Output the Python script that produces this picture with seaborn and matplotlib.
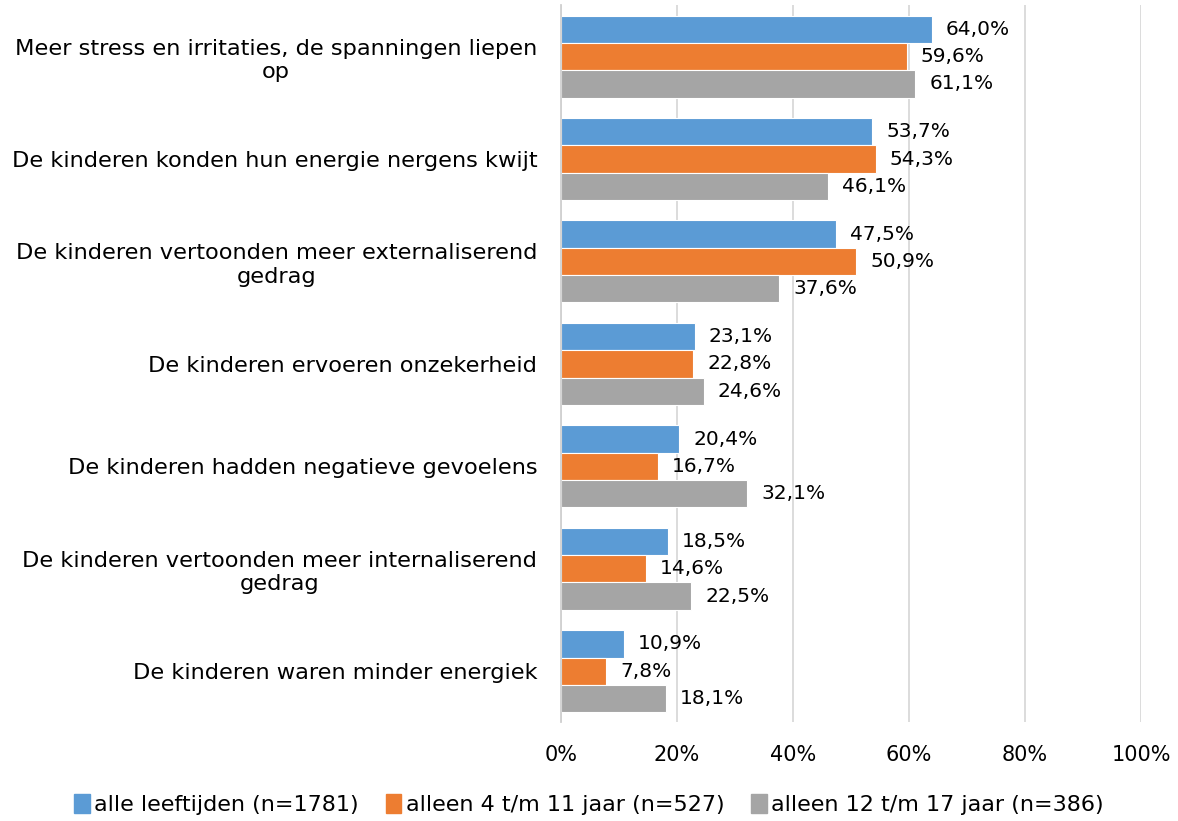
import pandas as pd
import numpy as np
import matplotlib.pyplot as plt
import seaborn as sns

# categorieën en waarden (percentages)
categories = [
    'Meer stress en irritaties, de spanningen liepen\nop',
    'De kinderen konden hun energie nergens kwijt',
    'De kinderen vertoonden meer externaliserend\ngedrag',
    'De kinderen ervoeren onzekerheid',
    'De kinderen hadden negatieve gevoelens',
    'De kinderen vertoonden meer internaliserend\ngedrag',
    'De kinderen waren minder energiek',
]
series = ['alle leeftijden (n=1781)', 'alleen 4 t/m 11 jaar (n=527)', 'alleen 12 t/m 17 jaar (n=386)']
alle = [64.0, 53.7, 47.5, 23.1, 20.4, 18.5, 10.9]
jong = [59.6, 54.3, 50.9, 22.8, 16.7, 14.6, 7.8]
oud = [61.1, 46.1, 37.6, 24.6, 32.1, 22.5, 18.1]
colors = ['#5B9BD5', '#ED7D31', '#A5A5A5']

df = pd.DataFrame({
    'categorie': categories * 3,
    'groep': [series[0]] * 7 + [series[1]] * 7 + [series[2]] * 7,
    'waarde': alle + jong + oud,
})

sns.set_style('white')
plt.rcParams['font.family'] = ['DejaVu Sans']
plt.rcParams['text.color'] = 'black'
plt.rcParams['xtick.color'] = 'black'
plt.rcParams['ytick.color'] = 'black'

fig = plt.figure(figsize=(11.78, 8.21), dpi=100)
ax = fig.add_axes([0.4762, 0.12, 0.4924, 0.8735])

sns.barplot(data=df, y='categorie', x='waarde', hue='groep', palette=colors,
            order=categories, hue_order=series, width=0.8, orient='h',
            saturation=1, edgecolor='white', linewidth=0.8, ax=ax)

# labels naast de balken
for cont in ax.containers:
    labels = [f'{v:.1f}%'.replace('.', ',') for v in cont.datavalues]
    ax.bar_label(cont, labels=labels, padding=10, fontsize=14.5)

ax.set_xlim(0, 100)
ax.set_xticks([0, 20, 40, 60, 80, 100])
ax.set_xticklabels(['0%', '20%', '40%', '60%', '80%', '100%'], fontsize=15)
ax.tick_params(axis='x', length=0, pad=16)
ax.tick_params(axis='y', length=0, pad=17)
for lab in ax.get_yticklabels():
    lab.set_fontsize(16.2)
    lab.set_multialignment('center')
ax.set_xlabel('')
ax.set_ylabel('')
ax.grid(axis='x', color='#D9D9D9', linewidth=1.3)
ax.set_axisbelow(True)
for s in ['top', 'right', 'bottom']:
    ax.spines[s].set_visible(False)
ax.spines['left'].set_color('#D0D0D0')
ax.spines['left'].set_linewidth(1.3)

ax.legend_.remove()
handles = [plt.Rectangle((0, 0), 1, 1, color=c) for c in colors]
fig.legend(handles, series, loc='lower center', bbox_to_anchor=(0.5, -0.017),
           ncol=3, frameon=False, fontsize=16, handlelength=0.7,
           handleheight=0.9, handletextpad=0.2, columnspacing=1.2)

fig.savefig('out.png', dpi=100)
